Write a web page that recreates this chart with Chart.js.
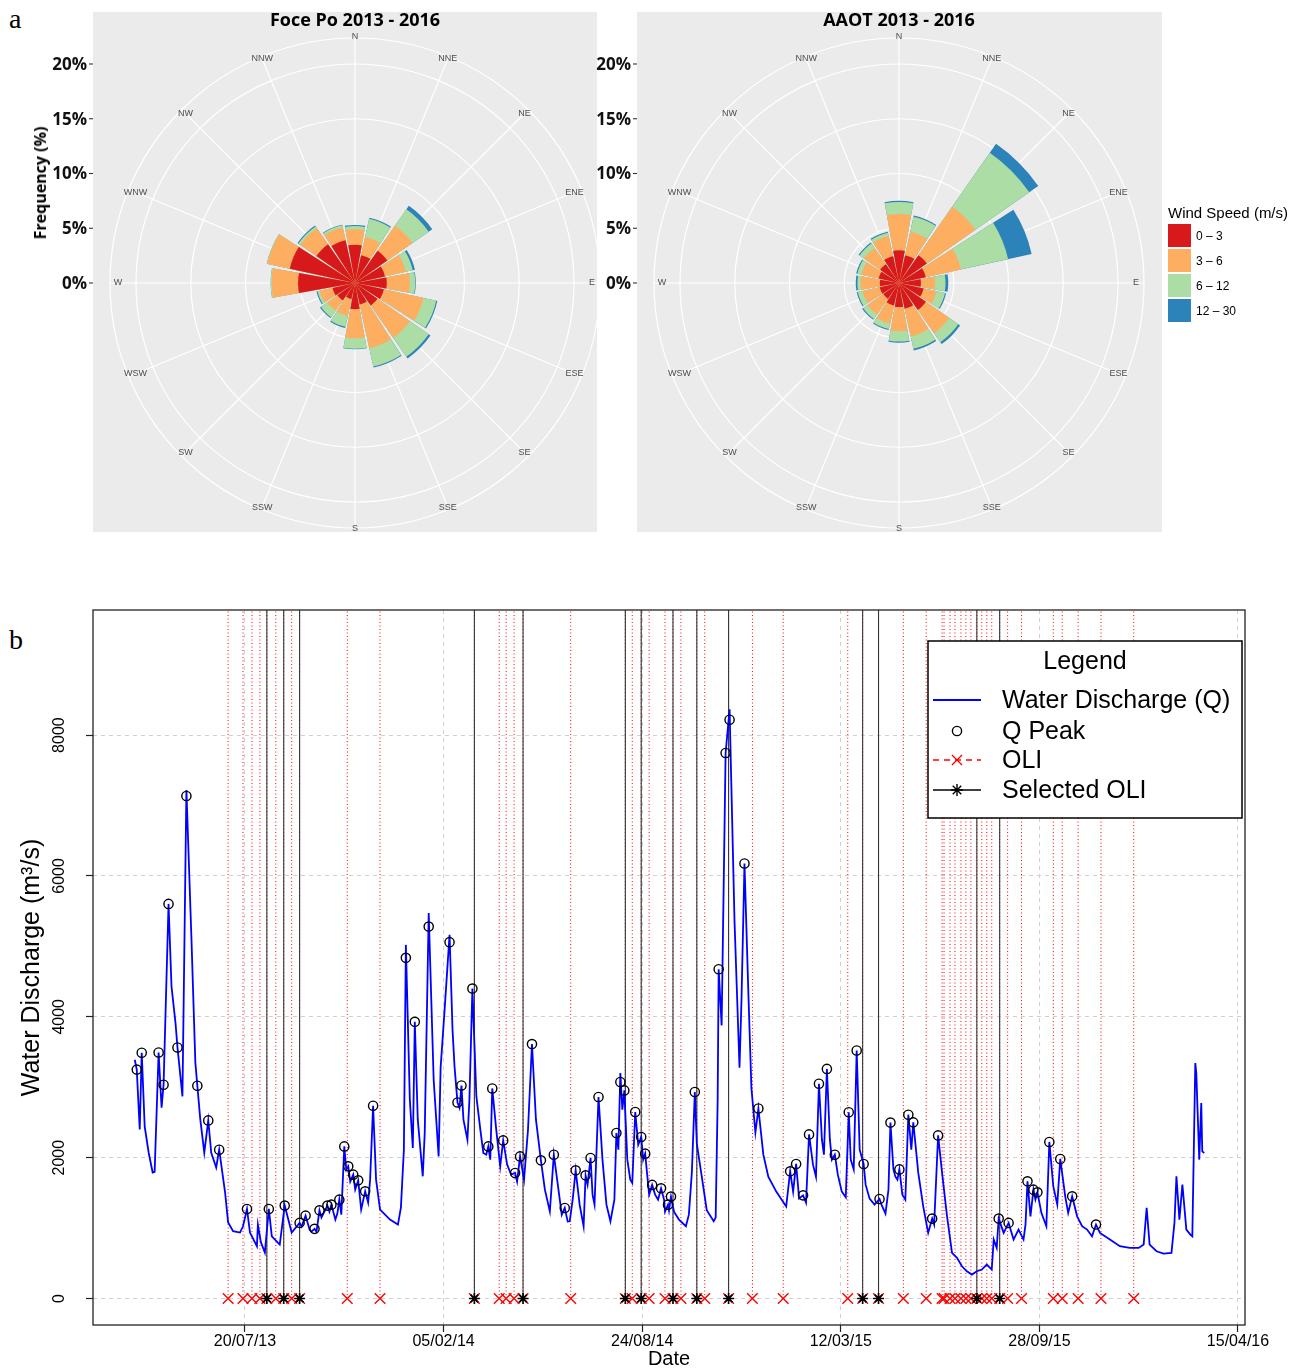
<!DOCTYPE html>
<html>
<head>
<meta charset="utf-8">
<script src="https://cdn.jsdelivr.net/npm/chart.js"></script>
<style>
  html, body { margin: 0; padding: 0; background: #fff; }
  body { width: 1304px; height: 1371px; position: relative; overflow: hidden; font-family: "Liberation Sans", Arial, sans-serif; }
  canvas { position: absolute; }
  .t { position: absolute; white-space: nowrap; line-height: 1; }
  .c { transform: translate(-50%, -50%); }
  .l { transform: translate(0, -50%); }
  .sw { position: absolute; width: 23px; height: 23px; }
</style>
</head>
<body>
<div class="t" style="left:9px;top:5px;font-family:'Liberation Serif',serif;font-size:28px;">a</div>
<div class="t" style="left:9px;top:626px;font-family:'Liberation Serif',serif;font-size:28px;">b</div>

<canvas id="roseFoce" width="600" height="540" style="left:0;top:0;"></canvas>
<canvas id="roseAaot" width="640" height="540" style="left:560px;top:0;"></canvas>

<div class="t c" style="left:355px;top:19px;font-family:'Open Sans',sans-serif;font-weight:bold;font-size:18px;">Foce Po 2013 - 2016</div>
<div class="t c" style="left:899px;top:19px;font-family:'Open Sans',sans-serif;font-weight:bold;font-size:18px;">AAOT 2013 - 2016</div>
<div class="t" style="left:40px;top:183px;transform:translate(-50%,-50%) rotate(-90deg);font-family:'Open Sans',sans-serif;font-weight:bold;font-size:16px;">Frequency (%)</div>

<div class="t l" style="left:1168px;top:212px;font-size:15px;">Wind Speed (m/s)</div>
<div id="windLegend"></div>

<canvas id="discharge" width="1304" height="781" style="left:0;top:590px;"></canvas>

<script>
// ---------------- Panel a : wind roses ----------------
const directions = ['N','NNE','NE','ENE','E','ESE','SE','SSE','S','SSW','SW','WSW','W','WNW','NW','NNW'];
const speedClasses = ['0 \u2013 3', '3 \u2013 6', '6 \u2013 12', '12 \u2013 30'];
const speedColors = ['#D7191C', '#FDAE61', '#ABDDA4', '#2B83BA'];
const radialTicks = [0, 5, 10, 15, 20];

// Foce Po 2013-2016, frequency (%) per direction for each wind speed class
const foce_0_3   = [3.5, 2.6, 3.6, 2.8, 2.9, 2.7, 2.5, 2.0, 2.4, 1.5, 1.95, 2.1, 5.2, 6.1, 4.3, 4.0];
const foce_3_6   = [1.4, 1.7, 2.8, 1.95, 2.1, 3.7, 3.6, 4.1, 2.65, 1.6, 1.15, 1.2, 2.4, 2.1, 1.8, 1.2];
const foce_6_12  = [0.3, 1.7, 1.8, 0.65, 0.5, 1.2, 2.1, 1.7, 0.95, 1.0, 0.7, 0.2, 0.1, 0.05, 0.2, 0.2];
const foce_12_30 = [0.1, 0.1, 0.4, 0.2, 0.05, 0.1, 0.2, 0.1, 0.05, 0.1, 0.1, 0.1, 0.0, 0.0, 0.1, 0.05];

// AAOT 2013-2016
const aaot_0_3   = [3.0, 2.6, 3.1, 2.5, 2.0, 2.3, 3.0, 2.4, 2.2, 2.1, 1.75, 1.8, 1.75, 1.9, 2.1, 2.5];
const aaot_3_6   = [3.3, 2.2, 5.4, 3.3, 1.3, 1.2, 2.6, 2.6, 2.2, 1.7, 1.75, 1.6, 1.75, 1.6, 1.8, 1.9];
const aaot_6_12  = [1.1, 1.4, 6.0, 4.4, 0.95, 0.8, 1.0, 1.15, 0.95, 0.5, 0.5, 0.45, 0.3, 0.4, 0.5, 0.3];
const aaot_12_30 = [0.1, 0.1, 1.0, 2.2, 0.25, 0.1, 0.2, 0.15, 0.1, 0.1, 0.1, 0.1, 0.15, 0.1, 0.1, 0.1];

const R_MAX = 22.374;      // radius of the outer label ring, in %
const BAR_DEG = 20.25;     // bar width (0.9 of a sector)
const GAP_DEG = 2.25;

Chart.defaults.font.family = '"Liberation Sans", Arial, sans-serif';

function cumulative(classes) {
  const out = [];
  let run = directions.map(() => 0);
  classes.forEach(c => { run = run.map((v, i) => v + c[i]); out.push(run.slice()); });
  return out;
}
function withGaps(arr) {
  const o = [];
  arr.forEach(v => { o.push(v); o.push(0); });
  return o;
}

function rosePlugin(panel) {
  return {
    id: 'roseDecor',
    beforeDraw(chart) {
      const c = chart.ctx;
      c.save();
      c.fillStyle = '#EBEBEB';
      c.fillRect(panel[0], panel[1], panel[2], panel[3]);
      c.restore();
    },
    beforeDatasetsDraw(chart) {
      const s = chart.scales.r, c = chart.ctx, R = s.drawingArea;
      c.save();
      c.strokeStyle = '#FFFFFF';
      c.lineWidth = 1.2;
      directions.forEach((d, i) => {
        const a = i * Math.PI / 8;
        c.beginPath();
        c.moveTo(s.xCenter, s.yCenter);
        c.lineTo(s.xCenter + R * Math.sin(a), s.yCenter - R * Math.cos(a));
        c.stroke();
      });
      c.restore();
    },
    afterDraw(chart) {
      const s = chart.scales.r, c = chart.ctx, R = s.drawingArea;
      c.save();
      c.font = '9px "Liberation Sans"';
      c.fillStyle = '#4D4D4D';
      c.textAlign = 'center';
      c.textBaseline = 'middle';
      directions.forEach((d, i) => {
        const a = i * Math.PI / 8;
        const rr = R + 1 - 9 * Math.abs(Math.sin(a));
        c.fillText(d, s.xCenter + rr * Math.sin(a), s.yCenter - rr * Math.cos(a));
      });
      c.font = 'bold 17px "Open Sans"';
      c.fillStyle = '#111';
      c.textAlign = 'right';
      c.strokeStyle = '#333';
      c.lineWidth = 1.1;
      radialTicks.forEach(v => {
        const y = s.yCenter - s.getDistanceFromCenterForValue(v);
        c.fillText(v + '%', panel[0] - 6, y + 1);
        c.beginPath();
        c.moveTo(panel[0] - 4, y);
        c.lineTo(panel[0], y);
        c.stroke();
      });
      c.restore();
    }
  };
}

function makeRose(id, classes, padding, panel) {
  const cum = cumulative(classes);
  const labels = [];
  directions.forEach(d => { labels.push(d); labels.push(''); });
  new Chart(document.getElementById(id), {
    type: 'polarArea',
    data: {
      labels: labels,
      datasets: cum.map((vals, k) => ({
        label: speedClasses[k],
        data: withGaps(vals),
        backgroundColor: speedColors[k],
        borderWidth: 0,
        angle: (ctx) => (ctx.dataIndex % 2 === 0 ? BAR_DEG : GAP_DEG)
      }))
    },
    options: {
      responsive: false, animation: false, events: [], devicePixelRatio: 1,
      layout: { padding: padding },
      plugins: { legend: { display: false }, tooltip: { enabled: false } },
      scales: {
        r: {
          min: 0, max: R_MAX,
          startAngle: -BAR_DEG / 2,
          ticks: { display: false },
          afterBuildTicks: (s) => { s.ticks = radialTicks.concat([R_MAX]).map(v => ({ value: v })); },
          grid: { color: '#FFFFFF', lineWidth: 1.2, circular: true },
          angleLines: { display: false },
          pointLabels: { display: false }
        }
      }
    },
    plugins: [rosePlugin(panel)]
  });
}

makeRose('roseFoce', [foce_0_3, foce_3_6, foce_6_12, foce_12_30],
  { left: 110, top: 38, right: 0, bottom: 12 }, [93, 12, 504, 520]);
makeRose('roseAaot', [aaot_0_3, aaot_3_6, aaot_6_12, aaot_12_30],
  { left: 94, top: 38, right: 56, bottom: 12 }, [77, 12, 525, 520]);

// wind legend
(function () {
  const host = document.getElementById('windLegend');
  speedClasses.forEach((lab, i) => {
    const sw = document.createElement('div');
    sw.className = 'sw';
    sw.style.left = '1168px';
    sw.style.top = (224 + 25 * i) + 'px';
    sw.style.background = speedColors[i];
    host.appendChild(sw);
    const t = document.createElement('div');
    t.className = 't l';
    t.style.left = '1196px';
    t.style.top = (236 + 25 * i) + 'px';
    t.style.fontSize = '12px';
    t.textContent = lab;
    host.appendChild(t);
  });
})();

// ---------------- Panel b : water discharge ----------------
// x values are days after 20/07/2013
const tickDates = ['20/07/13', '05/02/14', '24/08/14', '12/03/15', '28/09/15', '15/04/16'];
const yTicks = [0, 2000, 4000, 6000, 8000];

// Water discharge Q (m3/s) : [day, value]
const dischargeQ = [[-111,3390],[-109,3250],[-106,2400],[-104,3490],[-101,2440],[-97,2070],[-93,1790],[-91,1800],[-87,3494],[-84,2710],[-82,3035],[-77,5603],[-74,4430],[-70,3915],[-68,3565],[-63,2870],[-59,7220],[-54,5140],[-50,3350],[-48,3021],[-45,2540],[-41,2070],[-37,2529],[-34,2070],[-29,1860],[-26,2113],[-20,1500],[-17,1080],[-12,955],[-5,936],[-2,1026],[2,1272],[5,936],[12,742],[13,1050],[16,800],[20,652],[24,1272],[27,884],[35,766],[40,1319],[47,936],[55,1074],[57,1021],[61,1177],[65,979],[67,950],[70,989],[72,950],[75,1252],[77,1149],[83,1319],[85,1234],[87,1333],[91,1120],[93,1206],[95,1404],[97,1191],[100,2160],[102,1830],[104,1877],[106,1660],[109,1759],[111,1546],[114,1678],[117,1262],[121,1522],[124,1362],[126,1688],[129,2738],[132,1688],[136,1262],[146,1121],[154,1050],[157,1291],[160,2113],[162,5021],[166,2823],[169,2138],[171,3929],[174,2539],[179,1735],[181,2355],[185,5475],[190,3106],[195,2018],[197,3277],[201,4099],[206,5163],[209,3815],[211,3295],[214,2784],[216,2709],[218,3025],[220,2539],[224,2255],[226,2823],[229,4401],[233,2869],[237,2397],[240,2067],[243,2042],[245,2160],[247,1972],[249,2983],[253,2397],[257,1877],[260,2245],[264,1901],[268,1759],[272,1783],[274,1660],[277,2018],[281,1688],[285,2397],[289,3613],[293,2539],[298,1962],[302,1546],[307,1238],[311,2042],[315,1617],[319,1191],[322,1286],[325,1092],[327,1096],[330,1404],[333,1820],[337,1333],[341,1026],[343,1749],[345,1617],[348,1996],[350,1475],[352,1333],[356,2861],[360,1972],[364,1333],[368,1096],[372,1404],[374,2350],[376,2113],[378,3201],[380,2681],[382,2955],[385,1972],[388,1688],[390,1641],[393,2648],[396,2184],[399,2294],[401,1972],[403,2057],[406,1617],[407,1475],[410,1613],[413,1475],[416,1404],[419,1565],[422,1404],[423,1234],[426,1333],[427,1250],[429,1447],[432,1234],[437,1121],[444,1026],[447,1191],[450,1787],[453,2932],[455,2199],[460,1730],[465,1255],[472,1098],[474,1149],[476,2823],[477,4676],[480,3878],[484,7746],[488,8366],[493,5347],[498,3277],[500,4241],[503,6177],[507,4298],[510,2986],[514,2356],[517,2698],[522,2042],[527,1730],[535,1518],[545,1306],[549,1806],[552,1518],[555,1911],[558,1420],[562,1465],[565,1362],[568,2330],[572,1901],[575,1730],[578,3050],[581,2255],[583,2042],[586,3260],[589,2255],[591,1972],[594,2042],[597,1759],[601,1518],[605,1438],[608,2645],[610,1972],[613,1833],[616,3522],[619,2113],[623,1911],[625,1617],[629,1418],[634,1333],[639,1413],[641,1333],[645,1206],[648,1546],[650,2498],[653,1830],[655,1730],[657,1688],[659,1833],[662,1475],[665,1404],[668,2610],[671,2113],[673,2501],[678,1787],[683,1309],[688,932],[692,1135],[694,1050],[698,2316],[702,1783],[707,1167],[712,648],[717,577],[722,458],[727,387],[732,340],[737,387],[742,411],[747,482],[752,411],[754,837],[757,719],[759,1135],[764,932],[769,1074],[774,837],[779,979],[784,837],[786,1050],[788,1664],[791,1167],[794,1546],[796,1404],[798,1508],[802,1216],[807,1026],[810,2223],[814,1593],[818,1333],[821,1982],[826,1451],[829,1216],[833,1451],[838,1167],[843,1026],[848,979],[853,884],[857,1050],[861,932],[871,837],[881,742],[891,719],[900,719],[905,766],[908,1286],[911,766],[918,671],[925,638],[933,648],[936,1074],[938,1735],[941,1121],[944,1617],[948,979],[952,908],[954,884],[957,3343],[958,3201],[961,1972],[963,2776],[964,2089],[966,2067]];

// Q peaks : [day, value]
const qPeaks = [[-109,3250],[-104,3490],[-87,3494],[-82,3035],[-77,5603],[-68,3565],[-59,7135],[-48,3021],[-37,2529],[-26,2113],[2,1272],[24,1272],[40,1319],[55,1074],[61,1177],[70,989],[75,1252],[83,1319],[87,1333],[95,1404],[100,2160],[104,1877],[109,1759],[114,1678],[121,1522],[129,2738],[162,4837],[171,3929],[185,5281],[206,5060],[214,2784],[218,3025],[229,4401],[245,2160],[249,2983],[260,2245],[272,1783],[277,2018],[289,3613],[298,1962],[311,2042],[322,1286],[333,1820],[343,1749],[348,1996],[356,2861],[374,2350],[378,3074],[382,2955],[393,2648],[399,2294],[403,2057],[410,1613],[419,1565],[426,1333],[429,1447],[453,2932],[477,4676],[484,7746],[488,8218],[503,6177],[517,2698],[549,1806],[555,1911],[562,1465],[568,2330],[578,3050],[586,3260],[594,2042],[608,2645],[616,3522],[623,1911],[639,1413],[650,2498],[659,1833],[668,2610],[673,2501],[692,1135],[698,2316],[759,1135],[769,1074],[788,1664],[794,1546],[798,1508],[810,2223],[821,1982],[833,1451],[857,1050]];

// OLI acquisitions (days after 20/07/13)
const oliDays = [-17,-2,7,15,22,31,39,47,55,103,136,231,256,263,271,280,328,383,390,399,407,423,431,439,455,463,487,511,542,607,622,638,663,686,702,704,710,715,721,726,731,737,742,747,752,760,768,782,814,823,839,862,895];
const selectedOliDays = [22,39,55,231,280,383,399,431,455,487,622,638,737,760];

const X_MIN = -153.07, X_MAX = 1007.05;
const Y_MIN = -376, Y_MAX = 9776;

const T0 = Date.UTC(2013, 6, 20);
function dateToDay(s) {
  const [d, m, y] = s.split('/').map(Number);
  return Math.round((Date.UTC(2000 + y, m - 1, d) - T0) / 86400000);
}
function dayToLabel(v) {
  const dt = new Date(T0 + Math.round(v) * 86400000);
  const p = n => String(n).padStart(2, '0');
  return p(dt.getUTCDate()) + '/' + p(dt.getUTCMonth() + 1) + '/' + p(dt.getUTCFullYear() % 100);
}
const tickDays = tickDates.map(dateToDay);

function verticals(days) {
  const pts = [];
  days.forEach(d => { pts.push({ x: d, y: 0 }, { x: d, y: Y_MAX }, { x: d, y: null }); });
  return pts;
}

const LFONT = '25px "Liberation Sans"';
const OFF = 590; // canvas top on page

const dischargeDecor = {
  id: 'dischargeDecor',
  afterDraw(chart) {
    const c = chart.ctx, a = chart.chartArea, ys = chart.scales.y;
    c.save();
    // rotated y tick labels
    c.font = '16px "Liberation Sans"';
    c.fillStyle = '#000';
    c.textAlign = 'center';
    c.textBaseline = 'middle';
    yTicks.forEach(v => {
      const y = ys.getPixelForValue(v);
      c.save(); c.translate(60, y); c.rotate(-Math.PI / 2); c.fillText(String(v), 0, 0); c.restore();
    });
    // frame
    c.strokeStyle = '#222';
    c.lineWidth = 1.3;
    c.strokeRect(a.left, a.top, a.right - a.left, a.bottom - a.top);
    // legend
    const bx = 928, by = 641 - OFF, bw = 314, bh = 177;
    c.fillStyle = '#fff';
    c.fillRect(bx, by, bw, bh);
    c.strokeStyle = '#000';
    c.lineWidth = 1.5;
    c.strokeRect(bx, by, bw, bh);
    c.fillStyle = '#000';
    c.font = LFONT;
    c.textAlign = 'center';
    c.fillText('Legend', 1085, 662 - OFF);
    c.textAlign = 'left';
    const rows = [700, 731, 760, 790].map(v => v - OFF);
    const names = ['Water Discharge (Q)', 'Q Peak', 'OLI', 'Selected OLI'];
    names.forEach((n, i) => c.fillText(n, 1002, rows[i] + 1));
    const sx = 957;
    c.strokeStyle = '#0000FF'; c.lineWidth = 2;
    c.beginPath(); c.moveTo(933, rows[0]); c.lineTo(981, rows[0]); c.stroke();
    c.strokeStyle = '#000'; c.lineWidth = 1.4;
    c.beginPath(); c.arc(sx, rows[1], 4.6, 0, Math.PI * 2); c.stroke();
    c.strokeStyle = '#FF0000'; c.lineWidth = 1.3;
    c.setLineDash([6, 5]);
    c.beginPath(); c.moveTo(933, rows[2]); c.lineTo(981, rows[2]); c.stroke();
    c.setLineDash([]);
    c.beginPath();
    c.moveTo(sx - 5, rows[2] - 5); c.lineTo(sx + 5, rows[2] + 5);
    c.moveTo(sx - 5, rows[2] + 5); c.lineTo(sx + 5, rows[2] - 5);
    c.stroke();
    c.strokeStyle = '#000'; c.lineWidth = 1.4;
    c.beginPath(); c.moveTo(933, rows[3]); c.lineTo(981, rows[3]); c.stroke();
    c.beginPath();
    for (let k = 0; k < 4; k++) {
      const ang = k * Math.PI / 4;
      c.moveTo(sx - 6 * Math.cos(ang), rows[3] - 6 * Math.sin(ang));
      c.lineTo(sx + 6 * Math.cos(ang), rows[3] + 6 * Math.sin(ang));
    }
    c.stroke();
    c.restore();
  }
};

new Chart(document.getElementById('discharge'), {
  type: 'scatter',
  data: {
    datasets: [
      { label: 'Selected OLI', data: selectedOliDays.map(d => ({ x: d, y: 0 })), pointStyle: 'star', pointRadius: 5.5,
        borderColor: '#000', backgroundColor: '#000', borderWidth: 1.7, showLine: false, order: 0 },
      { label: 'OLI', data: oliDays.map(d => ({ x: d, y: 0 })), pointStyle: 'crossRot', pointRadius: 7.5,
        borderColor: '#FF0000', backgroundColor: '#FF0000', borderWidth: 1.4, showLine: false, order: 1 },
      { label: 'Q Peak', data: qPeaks.map(p => ({ x: p[0], y: p[1] })), pointStyle: 'circle', pointRadius: 4.6,
        borderColor: '#000', backgroundColor: 'rgba(0,0,0,0)', borderWidth: 1.4, showLine: false, order: 2 },
      { label: 'Water Discharge (Q)', data: dischargeQ.map(p => ({ x: p[0], y: p[1] })), showLine: true,
        borderColor: '#0000FF', borderWidth: 1.8, pointRadius: 0, tension: 0, order: 3 },
      { label: 'Selected OLI lines', data: verticals(selectedOliDays), showLine: true, spanGaps: false,
        borderColor: '#333333', borderWidth: 1.1, pointRadius: 0, order: 4 },
      { label: 'OLI lines', data: verticals(oliDays), showLine: true, spanGaps: false,
        borderColor: '#FF0000', borderWidth: 1, borderDash: [1, 2.5], pointRadius: 0, order: 5 }
    ]
  },
  options: {
    responsive: false, animation: false, events: [], devicePixelRatio: 1,
    layout: { padding: { left: 0, top: 20, right: 59, bottom: 0 } },
    plugins: { legend: { display: false }, tooltip: { enabled: false } },
    scales: {
      x: {
        type: 'linear', min: X_MIN, max: X_MAX,
        afterBuildTicks: (s) => { s.ticks = tickDays.map(v => ({ value: v })); },
        afterFit: (s) => { s.height = 46; },
        ticks: { callback: (v) => dayToLabel(v), font: { size: 16 }, color: '#000', padding: 0, maxRotation: 0, minRotation: 0, autoSkip: false },
        grid: { color: '#D0D0D0', lineWidth: 1, drawTicks: true, tickLength: 7, tickColor: '#222', tickWidth: 1.2 },
        border: { display: false, dash: [4, 4] },
        title: { display: true, text: 'Date', font: { size: 20 }, color: '#000', padding: 0 }
      },
      y: {
        type: 'linear', min: Y_MIN, max: Y_MAX,
        afterBuildTicks: (s) => { s.ticks = yTicks.map(v => ({ value: v })); },
        afterFit: (s) => { s.width = 93; },
        ticks: { display: false },
        grid: { color: '#D0D0D0', lineWidth: 1, drawTicks: true, tickLength: 7, tickColor: '#222', tickWidth: 1.2 },
        border: { display: false, dash: [4, 4] },
        title: { display: true, text: 'Water Discharge (m\u00B3/s)', font: { size: 25 }, color: '#000', padding: { top: 17, bottom: 0 } }
      }
    }
  },
  plugins: [dischargeDecor]
});
</script>
</body>
</html>
